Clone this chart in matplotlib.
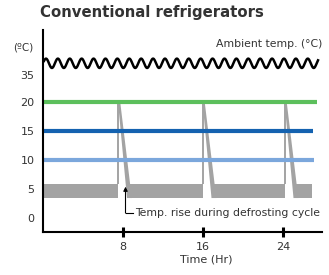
import numpy as np
import matplotlib
matplotlib.use("Agg")
import matplotlib.pyplot as plt
from matplotlib.patches import Polygon

plt.rcParams['font.family'] = ['DejaVu Sans']

# ---- data ----
TITLE = "Conventional refrigerators"
Y_TICKS = [0, 5, 10, 15, 20, 35]
X_TICKS = [8, 16, 24]
SET_TEMPS = [20, 15, 10]
SET_COLORS = ["#5cbf5c", "#1462b0", "#7ba7dc"]
SET_ENDS = [27.35, 27.0, 27.1]
DEFROST_TIMES = [7.5, 15.95, 24.15]
DEFROST_PEAK = 20
BAND_LOW = 3.45
BAND_HIGH = 5.8
BAND_END = 26.9
AMBIENT = 41.5
AMBIENT_END = 27.5

# ---- scale: compress values above 20 ----
K = 0.31
def fwd(v):
    v = np.asarray(v, dtype=float)
    return np.where(v <= 20, v, 20 + (v - 20) * K)
def inv(v):
    v = np.asarray(v, dtype=float)
    return np.where(v <= 20, v, 20 + (v - 20) / K)

fig = plt.figure(figsize=(3.29, 2.75), dpi=100)
ax = fig.add_axes([43/329, 1 - 232/275, (322 - 43)/329, (232 - 30)/275])
ax.set_yscale('function', functions=(fwd, inv))
ax.set_xlim(0, 27.9)
ax.set_ylim(-2.4, 60)

gray = "#a3a3a3"
# defrost band segments
starts = [0] + [t + 0.9 for t in DEFROST_TIMES]
ends = DEFROST_TIMES + [BAND_END]
for s, e in zip(starts, ends):
    ax.fill_between([s, e], BAND_LOW, BAND_HIGH, color=gray, lw=0, zorder=1)
for t in DEFROST_TIMES:
    ax.plot([t, t], [BAND_HIGH, DEFROST_PEAK], color=gray, lw=1.4, zorder=1,
            solid_capstyle='butt')
    ax.add_patch(Polygon([(t, DEFROST_PEAK), (t + 0.22, DEFROST_PEAK),
                          (t + 1.38, BAND_LOW), (t + 0.9, BAND_LOW)],
                         closed=True, facecolor=gray, edgecolor='none', zorder=1))

# set temperature lines
for v, c, e in zip(SET_TEMPS, SET_COLORS, SET_ENDS):
    ax.plot([0, e], [v, v], color=c, lw=3.0, solid_capstyle='butt', zorder=2)

# ambient wavy line (decorative wave around the ambient value)
xs = np.linspace(0.1, AMBIENT_END, 1200)
period = 1.19
amp = 2.6
ax.plot(xs, AMBIENT + amp * np.sin(2 * np.pi * xs / period), color='black', lw=1.8, zorder=3)

# axes styling
for s in ['top', 'right']:
    ax.spines[s].set_visible(False)
ax.spines['left'].set_linewidth(1.5)
ax.spines['bottom'].set_linewidth(1.5)
ax.set_yticks(Y_TICKS)
ax.set_yticklabels([str(v) for v in Y_TICKS])
ax.tick_params(axis='y', length=0, pad=6, labelsize=8, labelcolor='#333333')
ax.set_xticks(X_TICKS)
ax.set_xticklabels([str(v) for v in X_TICKS])
ax.tick_params(axis='x', direction='inout', length=7, width=2.2, pad=4,
               labelsize=8, labelcolor='#333333')

ax.text(16.3, -0.135, "Time (Hr)", transform=ax.get_xaxis_transform(),
        ha='center', va='center', fontsize=8, color='#333333')

fig.text(40/329, 1 - 13/275, TITLE, ha='left', va='center', fontsize=10.7,
         fontweight='bold', color='#333333')
fig.text(13/329, 1 - 47/275, "(ºC)", ha='left', va='center', fontsize=7.5, color='#333333')
fig.text(322/329, 1 - 44/275, "Ambient temp. (°C)", ha='right', va='center',
         fontsize=7.8, color='#333333')

# annotation for defrost rise
ax.annotate("", xy=(8.25, 5.4), xytext=(8.25, 0.85),
            arrowprops=dict(arrowstyle='-|>', color='black', lw=0.8,
                            mutation_scale=6, shrinkA=0, shrinkB=0))
ax.plot([8.25, 8.95], [0.85, 0.85], color='black', lw=0.8)
ax.text(9.25, 0.85, "Temp. rise during defrosting cycle", ha='left', va='center',
        fontsize=7.8, color='#333333')

fig.savefig("out.png", dpi=100)
